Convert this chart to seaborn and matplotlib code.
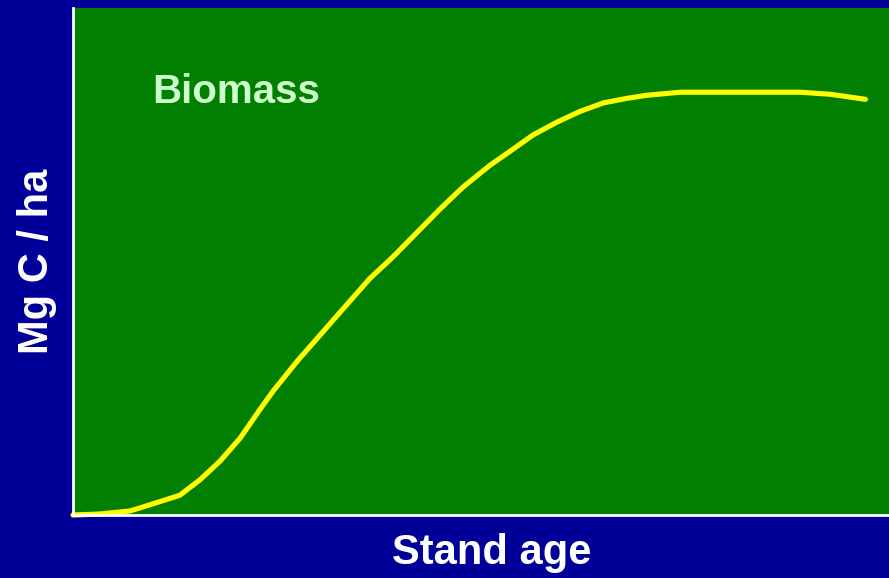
import numpy as np
import pandas as pd
import matplotlib.pyplot as plt
import seaborn as sns

# Valores (idade do povoamento vs biomassa, escala relativa 0-100)
idade = [0, 3.3, 7.0, 9.4, 13.1, 15.6, 18.0, 20.5, 22.9, 24.5, 27.5,
         29.9, 32.4, 36.4, 39.2, 42.5, 45.0, 47.8, 51.1, 53.6, 56.4, 59.3,
         62.1, 65.0, 67.9, 70.3, 74.4, 89.1, 92.8, 97.1]
biomassa = [0, 0.2, 0.8, 2.0, 3.9, 7.0, 10.6, 15.2, 20.8, 24.4, 30.4,
            34.8, 39.4, 46.7, 50.9, 56.3, 60.4, 64.7, 69.0, 71.8, 75.0, 77.5,
            79.6, 81.3, 82.2, 82.8, 83.4, 83.4, 83.0, 82.0]

df = pd.DataFrame({'Stand age': idade, 'Biomassa': biomassa})

sns.set_style('white')
plt.rcParams['font.family'] = ['Liberation Sans', 'DejaVu Sans']

fig = plt.figure(figsize=(8.89, 5.78), dpi=100, facecolor='#000099')
ax = fig.add_axes([0.0821, 0.109, 0.918, 0.877])
ax.set_facecolor('#007F00')

sns.lineplot(data=df, x='Stand age', y='Biomassa', ax=ax, color='#FFFF00',
             linewidth=3.7, solid_capstyle='round', solid_joinstyle='round',
             clip_on=False)

ax.set_xlim(0, 100)
ax.set_ylim(0, 100)
ax.set_xticks([])
ax.set_yticks([])

for lado in ['top', 'right']:
    ax.spines[lado].set_visible(False)
for lado in ['left', 'bottom']:
    ax.spines[lado].set_color('white')
    ax.spines[lado].set_linewidth(2)

ax.set_xlabel('Stand age', color='white', fontsize=30, fontweight='bold')
ax.set_ylabel('Mg C / ha', color='white', fontsize=30, fontweight='bold')
ax.xaxis.set_label_coords(0.513, -0.035)
ax.yaxis.set_label_coords(-0.02, 0.5)

ax.text(0.097, 0.834, 'Biomass', transform=ax.transAxes, color='#CCFFCC',
        fontsize=29, fontweight='bold', va='center', ha='left')

fig.savefig('out.png', dpi=100, facecolor=fig.get_facecolor())
